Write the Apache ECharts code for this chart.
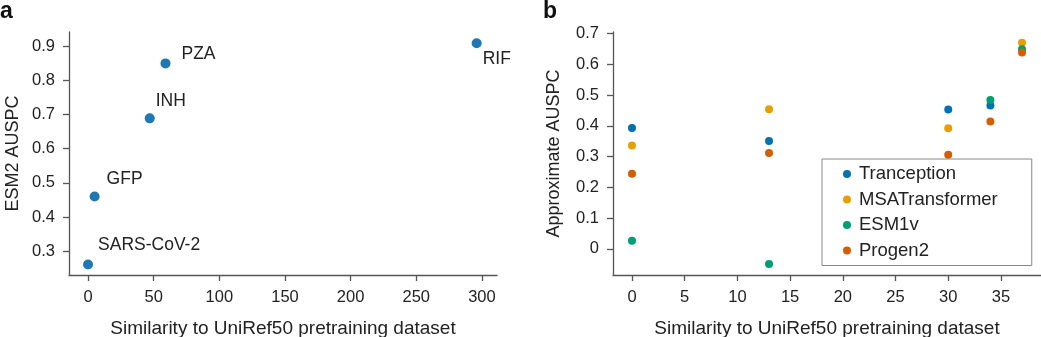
<!DOCTYPE html>
<html><head><meta charset="utf-8">
<script src="https://cdn.jsdelivr.net/npm/echarts@6/dist/echarts.min.js"></script>
<style>html,body{margin:0;padding:0;background:#fff}#c{width:1041px;height:337px}</style>
</head><body><div id="c"></div>
<script>
// ---- Panel a data ----
const aNames = ['SARS-CoV-2', 'GFP', 'INH', 'PZA', 'RIF'];
const aSimilarity = [0, 5, 47, 59, 296];
const aAUSPC = [0.261, 0.46, 0.689, 0.85, 0.909];
const aXTicks = [0, 50, 100, 150, 200, 250, 300];
const aYTicks = [0.3, 0.4, 0.5, 0.6, 0.7, 0.8, 0.9];

// ---- Panel b data ----
const bSimilarity = [0, 13, 30, 34, 37];
const bModels = ['Tranception', 'MSATransformer', 'ESM1v', 'Progen2'];
const tranception    = [0.393, 0.351, 0.453, 0.466, null];
const msaTransformer = [0.336, 0.454, 0.392, null, 0.670];
const esm1v          = [0.026, -0.049, null, 0.484, 0.649];
const progen2        = [0.244, 0.312, 0.306, 0.414, 0.638];
const bXTicks = [0, 5, 10, 15, 20, 25, 30, 35];
const bYTicks = [0, 0.1, 0.2, 0.3, 0.4, 0.5, 0.6, 0.7];

// ---- styles (kept apart from data) ----
const FONT = 'Liberation Sans, Arial, sans-serif';
const aLabelOffsets = [[10, -19], [12, -17], [6, -17], [16, -9], [6, 16]];
const bColors = ['#0072B2', '#E69F00', '#009E73', '#D55E00'];
const bSeriesValues = [tranception, msaTransformer, esm1v, progen2];

const axisLineStyle = { color: '#555', width: 1.3 };
function xAxisCfg(gridIndex, min, max, ticks, name) {
  return {
    type: 'value', gridIndex, min, max, name,
    nameLocation: 'middle', nameGap: 44,
    nameTextStyle: { fontFamily: FONT, fontSize: 19, color: '#222' },
    splitLine: { show: false },
    axisLine: { onZero: false, lineStyle: axisLineStyle },
    axisTick: { inside: false, length: 6, lineStyle: axisLineStyle, customValues: ticks },
    axisLabel: { customValues: ticks, fontFamily: FONT, fontSize: 16.5, color: '#222', margin: 14,
      formatter: v => String(v) }
  };
}
function yAxisCfg(gridIndex, min, max, ticks, name, gap) {
  return {
    type: 'value', gridIndex, min, max, name,
    nameLocation: 'middle', nameGap: gap,
    nameTextStyle: { fontFamily: FONT, fontSize: 18, color: '#222' },
    splitLine: { show: false },
    axisLine: { show: true, onZero: false, lineStyle: axisLineStyle },
    axisTick: { show: true, inside: false, length: 6, lineStyle: axisLineStyle, customValues: ticks },
    axisLabel: { customValues: ticks, fontFamily: FONT, fontSize: 16.5, color: '#222', margin: 14,
      formatter: v => (Math.abs(v) < 1e-9 ? '0' : v.toFixed(1)) }
  };
}

const aData = aSimilarity.map((x, i) => ({
  value: [x, aAUSPC[i]],
  name: aNames[i],
  label: { offset: aLabelOffsets[i] }
}));

const bSeries = bModels.map((m, k) => ({
  name: m, type: 'scatter', xAxisIndex: 1, yAxisIndex: 1,
  symbolSize: 8,
  itemStyle: { color: bColors[k], opacity: 1 },
  data: bSimilarity.map((x, i) => bSeriesValues[k][i] == null ? null : [x, bSeriesValues[k][i]]).filter(d => d)
}));

const option = {
  animation: false,
  backgroundColor: '#fff',
  textStyle: { fontFamily: FONT },
  grid: [
    { left: 69, top: 32, width: 428, height: 243, outerBoundsMode: 'none', containLabel: false },
    { left: 613, top: 32, width: 428, height: 243, outerBoundsMode: 'none', containLabel: false }
  ],
  xAxis: [
    xAxisCfg(0, -14.5, 311.5, aXTicks, 'Similarity to UniRef50 pretraining dataset'),
    xAxisCfg(1, -1.8, 38.8, bXTicks, 'Similarity to UniRef50 pretraining dataset')
  ],
  yAxis: [
    yAxisCfg(0, 0.23, 0.942, aYTicks, 'ESM2 AUSPC', 47),
    yAxisCfg(1, -0.085, 0.705, bYTicks, 'Approximate AUSPC', 50)
  ],
  legend: {
    data: bModels,
    orient: 'vertical',
    left: 822, top: 159,
    padding: [5, 34, 5, 21],
    itemGap: 5.5,
    itemWidth: 8, itemHeight: 8,
    icon: 'circle',
    borderColor: '#888', borderWidth: 1,
    textStyle: { fontFamily: FONT, fontSize: 18.5, color: '#222', padding: [0, 0, 0, 3], lineHeight: 20 }
  },
  graphic: [
    { type: 'text', left: 0, top: 0, style: { text: 'a', font: 'bold 23px ' + FONT, fill: '#111' } },
    { type: 'text', left: 543, top: 0, style: { text: 'b', font: 'bold 23px ' + FONT, fill: '#111' } }
  ],
  series: [
    {
      type: 'scatter', xAxisIndex: 0, yAxisIndex: 0,
      symbolSize: 10,
      itemStyle: { color: '#1f77b4', opacity: 1 },
      label: {
        show: true, position: 'inside', align: 'left', verticalAlign: 'middle',
        formatter: p => p.name, fontFamily: FONT, fontSize: 17.5, color: '#222'
      },
      data: aData
    },
    ...bSeries
  ]
};
const chart = echarts.init(document.getElementById('c'), null, { renderer: 'canvas' });
chart.setOption(option);
</script>
</body></html>
